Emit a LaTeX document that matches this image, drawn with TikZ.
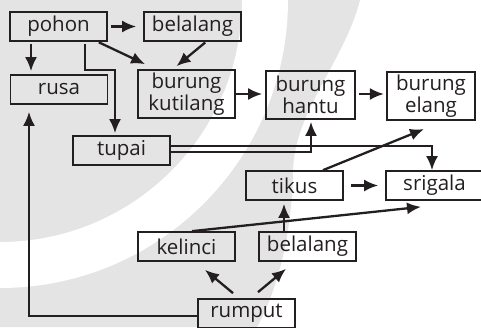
\documentclass[tikz,border=0pt]{standalone}
\usepackage{fontspec}
\setmainfont{Open Sans}
\usetikzlibrary{arrows.meta}
\definecolor{tinta}{HTML}{231F20}
\definecolor{latar}{HTML}{E4E4E4}

\begin{document}
\begin{tikzpicture}[x=1pt,y=-1pt,line width=2.3pt,>={Latex[length=14pt,width=12pt]},
  kotak/.style={draw=tinta,line width=1.7pt,minimum width=97pt,minimum height=29pt,
    inner sep=0pt,align=center,text=tinta,font=\fontsize{20.5}{17.5}\selectfont},
  panah/.style={->,draw=tinta}]
  \useasboundingbox (0,0) rectangle (481,327);
  % ===================== latar =====================
  \fill[latar] (0,0) -- (360,0) .. controls (345,60) and (295,110) .. (293,170)
    .. controls (292,240) and (275,295) .. (257,327) -- (0,327) -- cycle;
  \fill[white,even odd rule] (0,0) circle (288pt) (0,0) circle (242pt);
  % ===================== kotak =====================
  % baris atas
  \node[kotak] (pohon) at (58.5,26.5){pohon};
  \node[kotak] (belalangA) at (192.5,26.5){belalang};
  % rusa dan tupai
  \node[kotak] (rusa) at (59,89.5){rusa};
  \node[kotak] (tupai) at (121.5,150.5){tupai};
  % burung
  \node[kotak,minimum height=48pt] (kutilang) at (186.5,94){burung\\kutilang};
  \node[kotak,minimum width=89pt,minimum height=48pt] (hantu) at (310.5,95){burung\\hantu};
  \node[kotak,minimum width=88pt,minimum height=48pt,line width=2.2pt] (elang) at (431,96){burung\\elang};
  % tikus dan srigala
  \node[kotak] (tikus) at (294.5,185.5){tikus};
  \node[kotak] (srigala) at (434.5,185.5){srigala};
  % baris bawah
  \node[kotak] (kelinci) at (186.5,246.5){kelinci};
  \node[kotak] (belalangB) at (307.5,246.5){belalang};
  \node[kotak] (rumput) at (246.5,313.5){rumput};
  % ===================== panah =====================
  % pohon -> belalang, rusa, kutilang, tupai
  \draw[panah,shorten <=3pt,shorten >=7pt] (pohon) -- (belalangA);
  \draw[panah,shorten <=2pt,shorten >=3pt] ([xshift=-27.5pt]pohon.south) -- ([xshift=-28pt]rusa.north);
  \draw[panah,shorten <=1pt] ([xshift=-10pt]pohon.south east) -- ([xshift=8pt,yshift=5pt]kutilang.north west);
  \draw[panah,shorten <=2pt,shorten >=2pt] ([xshift=26.5pt]pohon.south) -- ++(0,28) -| ([xshift=-6.5pt]tupai.north);
  % belalang -> kutilang
  \draw[panah,shorten <=1pt] ([xshift=13.5pt]belalangA.south) -- ([xshift=-10pt,yshift=3pt]kutilang.north);
  % kutilang -> hantu -> elang
  \draw[panah,shorten >=3pt] (kutilang.east) -- (kutilang.east -| hantu.west);
  \draw[panah,shorten <=3pt,shorten >=2pt] (kutilang.east -| hantu.east) -- (kutilang.east -| elang.west);
  % tupai -> hantu, srigala (garis ganda)
  \draw[panah,shorten >=2pt] ([yshift=-1.5pt]tupai.east) -| ([xshift=0.5pt]hantu.south);
  \draw[panah] ([yshift=4.5pt]tupai.east) -| ([xshift=-2.5pt]srigala.north);
  % tikus -> elang, srigala
  \draw[panah] ([xshift=28.5pt]tikus.north) -- ([xshift=-7pt,yshift=-8pt]elang.south);
  \draw[panah,shorten <=7pt,shorten >=7pt] (tikus) -- (srigala);
  % kelinci -> srigala
  \draw[panah] ([xshift=5.5pt]kelinci.north) -- ([xshift=-13.5pt,yshift=-6pt]srigala.south);
  % belalang -> tikus
  \draw[panah,shorten >=3pt] ([xshift=-23.5pt]belalangB.north) -- ([xshift=-10.5pt]tikus.south);
  % rumput -> kelinci, belalang, rusa
  \draw[panah] ([xshift=-13.5pt,yshift=5pt]rumput.north) -- ([xshift=18.5pt,yshift=-8pt]kelinci.south);
  \draw[panah] ([xshift=11.5pt,yshift=6pt]rumput.north) -- ([xshift=-21.5pt,yshift=-7pt]belalangB.south);
  \draw[panah,shorten >=7pt] ([yshift=-2.5pt]rumput.west) -| ([xshift=-30pt]rusa.south);
\end{tikzpicture}
\end{document}
